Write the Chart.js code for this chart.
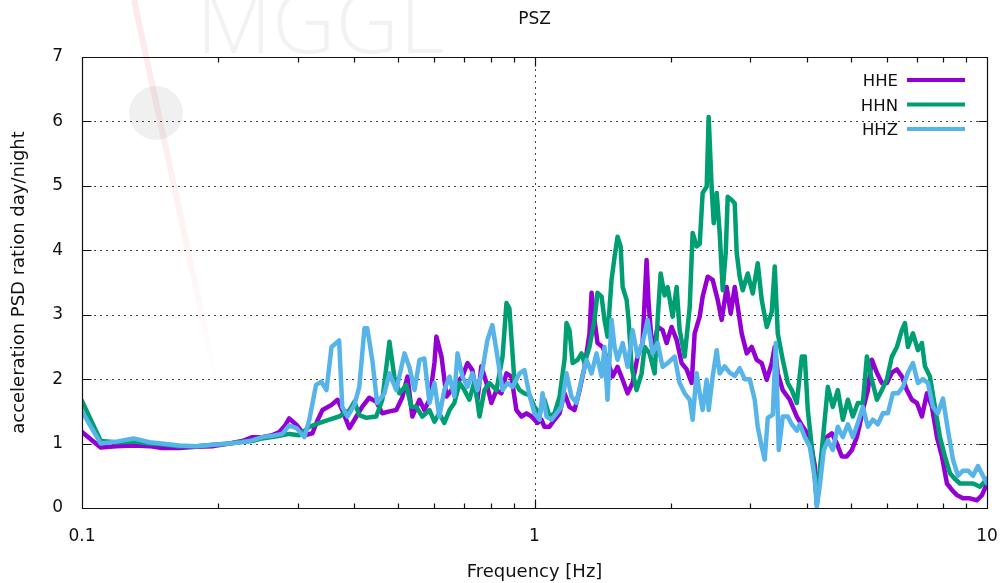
<!DOCTYPE html>
<html>
<head>
<meta charset="utf-8">
<title>PSZ</title>
<script src="https://cdn.jsdelivr.net/npm/chart.js@4.4.1/dist/chart.umd.min.js"></script>
<style>
  html, body { margin: 0; padding: 0; background: #ffffff; }
  canvas { display: block; }
</style>
</head>
<body>
<canvas id="psd" width="1003" height="583"></canvas>
<script>
// Day/night acceleration PSD ratio per channel: [frequency Hz, ratio]
const hhe = [
  [0.100,1.18],[0.110,0.94],[0.119,0.96],[0.130,0.97],[0.141,0.96],[0.150,0.93],[0.164,0.93],[0.179,0.95],
  [0.195,0.96],[0.212,1.00],[0.226,1.04],[0.238,1.10],[0.250,1.10],[0.263,1.13],[0.273,1.18],[0.281,1.28],
  [0.287,1.39],[0.298,1.29],[0.310,1.13],[0.323,1.16],[0.331,1.35],[0.340,1.52],[0.356,1.60],[0.367,1.68],
  [0.376,1.52],[0.390,1.24],[0.404,1.42],[0.416,1.57],[0.431,1.71],[0.447,1.65],[0.461,1.47],[0.478,1.50],
  [0.495,1.52],[0.510,1.71],[0.524,2.04],[0.537,1.42],[0.557,1.68],[0.571,1.52],[0.586,1.68],[0.601,2.25],
  [0.607,2.66],[0.623,2.35],[0.639,1.73],[0.655,1.83],[0.672,1.94],[0.693,2.04],[0.711,2.25],[0.729,2.14],
  [0.748,1.68],[0.763,2.20],[0.783,1.94],[0.803,1.63],[0.824,1.83],[0.845,1.78],[0.867,2.09],[0.889,2.04],
  [0.912,1.52],[0.936,1.42],[0.960,1.47],[0.985,1.42],[1.015,1.32],[1.036,1.37],[1.052,1.26],[1.079,1.26],
  [1.107,1.37],[1.136,1.47],[1.165,1.78],[1.195,1.57],[1.226,1.52],[1.258,1.83],[1.290,2.19],[1.323,2.71],
  [1.337,3.34],[1.357,2.92],[1.378,2.56],[1.414,2.50],[1.450,2.30],[1.488,2.04],[1.526,2.19],[1.566,1.99],
  [1.606,1.78],[1.647,1.94],[1.690,2.35],[1.733,2.56],[1.769,3.85],[1.787,3.18],[1.824,2.40],[1.871,2.81],
  [1.919,2.76],[1.959,2.56],[2.009,2.81],[2.061,2.61],[2.114,2.25],[2.169,2.15],[2.225,1.94],[2.259,2.71],
  [2.318,2.97],[2.353,3.28],[2.414,3.59],[2.476,3.54],[2.540,3.23],[2.592,2.92],[2.659,3.43],[2.714,3.02],
  [2.770,3.43],[2.813,3.12],[2.870,2.71],[2.945,2.40],[3.020,2.50],[3.098,2.30],[3.178,2.25],[3.260,1.99],
  [3.344,2.25],[3.396,2.50],[3.448,2.09],[3.537,1.83],[3.666,1.68],[3.799,1.42],[3.917,1.26],[4.059,1.10],
  [4.164,0.65],[4.206,0.05],[4.315,0.80],[4.426,1.10],[4.540,1.16],[4.657,1.00],[4.777,0.80],[4.901,0.80],
  [5.027,0.90],[5.157,1.10],[5.236,1.30],[5.317,1.52],[5.454,1.83],[5.566,2.30],[5.710,2.10],[5.857,1.94],
  [6.009,1.94],[6.163,2.10],[6.323,2.15],[6.485,2.04],[6.653,1.83],[6.824,1.68],[7.001,1.63],[7.181,1.42],
  [7.367,1.78],[7.556,1.57],[7.752,1.10],[7.951,0.80],[8.157,0.38],[8.367,0.28],[8.583,0.20],[8.850,0.15],
  [9.171,0.15],[9.504,0.12],[9.748,0.20],[10.0,0.38]
];

const hhn = [
  [0.100,1.66],[0.110,1.04],[0.119,1.02],[0.130,1.03],[0.141,1.00],[0.150,0.99],[0.164,0.96],[0.179,0.96],
  [0.195,0.98],[0.212,1.00],[0.226,1.03],[0.238,1.04],[0.250,1.08],[0.263,1.10],[0.273,1.12],[0.287,1.15],
  [0.302,1.13],[0.318,1.26],[0.335,1.32],[0.352,1.37],[0.370,1.42],[0.390,1.52],[0.400,1.65],[0.410,1.44],
  [0.425,1.40],[0.447,1.42],[0.461,1.68],[0.478,2.58],[0.490,2.04],[0.503,1.78],[0.521,1.91],[0.534,1.57],
  [0.548,1.57],[0.565,1.42],[0.586,1.52],[0.601,1.34],[0.616,1.47],[0.632,1.32],[0.649,1.52],[0.665,1.63],
  [0.683,1.94],[0.700,1.83],[0.718,1.68],[0.737,1.97],[0.756,1.42],[0.775,1.83],[0.795,1.94],[0.824,1.83],
  [0.850,2.35],[0.867,3.18],[0.880,3.10],[0.903,1.97],[0.927,1.83],[0.950,1.78],[0.975,1.75],[1.000,1.57],
  [1.026,1.47],[1.052,1.68],[1.079,1.42],[1.107,1.47],[1.136,1.73],[1.165,2.30],[1.177,2.87],[1.195,2.76],
  [1.214,2.25],[1.245,2.30],[1.270,2.40],[1.290,2.25],[1.323,2.50],[1.357,2.92],[1.378,3.34],[1.407,3.28],
  [1.428,2.92],[1.450,2.66],[1.480,3.54],[1.503,3.90],[1.526,4.21],[1.550,4.06],[1.566,3.43],[1.598,3.23],
  [1.614,2.92],[1.639,2.19],[1.681,1.83],[1.725,2.09],[1.751,2.50],[1.796,2.40],[1.843,2.09],[1.871,2.92],
  [1.900,3.64],[1.939,3.30],[1.969,3.43],[2.020,2.97],[2.061,3.43],[2.093,2.76],[2.147,2.35],[2.203,3.12],
  [2.236,4.27],[2.282,4.06],[2.318,4.10],[2.353,4.89],[2.402,4.99],[2.426,6.07],[2.464,4.95],[2.489,4.42],
  [2.527,4.89],[2.566,4.27],[2.606,3.38],[2.646,3.96],[2.673,4.83],[2.728,4.78],[2.770,4.73],[2.798,3.96],
  [2.841,3.59],[2.885,3.38],[2.960,3.64],[3.036,3.33],[3.114,3.80],[3.178,3.23],[3.260,2.81],[3.344,3.04],
  [3.396,3.75],[3.448,2.71],[3.537,2.30],[3.629,1.94],[3.703,1.83],[3.799,1.63],[3.897,2.35],[3.957,2.35],
  [4.018,1.52],[4.121,0.80],[4.206,0.12],[4.315,0.90],[4.449,1.88],[4.563,1.57],[4.681,1.83],[4.802,1.37],
  [4.926,1.68],[5.053,1.42],[5.183,1.63],[5.317,1.63],[5.427,2.35],[5.566,1.99],[5.710,1.68],[5.857,1.83],
  [6.009,2.00],[6.163,2.35],[6.323,2.50],[6.485,2.76],[6.586,2.87],[6.687,2.50],[6.860,2.71],[7.037,2.45],
  [7.181,2.56],[7.292,2.20],[7.480,2.04],[7.673,1.57],[7.871,1.10],[8.074,0.80],[8.283,0.54],[8.496,0.45],
  [8.715,0.38],[9.032,0.38],[9.312,0.38],[9.650,0.33],[10.0,0.45]
];

const hhz = [
  [0.100,1.50],[0.110,1.00],[0.119,1.03],[0.130,1.08],[0.141,1.02],[0.150,1.00],[0.164,0.97],[0.179,0.96],
  [0.195,0.98],[0.212,1.00],[0.226,1.02],[0.238,1.05],[0.250,1.10],[0.263,1.12],[0.277,1.15],[0.287,1.28],
  [0.298,1.24],[0.310,1.10],[0.318,1.37],[0.329,1.91],[0.338,1.96],[0.347,1.83],[0.356,2.50],[0.370,2.60],
  [0.376,1.57],[0.386,1.42],[0.400,1.60],[0.410,1.88],[0.421,2.79],[0.427,2.79],[0.438,2.30],[0.449,1.63],
  [0.466,1.78],[0.478,2.09],[0.495,1.83],[0.516,2.40],[0.529,2.19],[0.543,1.83],[0.557,2.30],[0.571,2.32],
  [0.586,1.63],[0.601,1.94],[0.616,1.42],[0.632,1.83],[0.649,2.04],[0.665,1.73],[0.676,2.40],[0.693,2.04],
  [0.711,1.88],[0.729,2.09],[0.748,1.83],[0.767,2.14],[0.787,2.61],[0.807,2.84],[0.828,2.35],[0.850,1.83],
  [0.872,1.94],[0.894,1.88],[0.927,2.09],[0.950,2.14],[0.975,1.75],[1.000,1.47],[1.026,1.37],[1.042,1.78],
  [1.063,1.42],[1.090,1.37],[1.119,1.47],[1.147,1.57],[1.177,2.09],[1.207,1.73],[1.238,1.63],[1.270,1.99],
  [1.303,2.30],[1.337,2.09],[1.371,2.40],[1.407,2.04],[1.428,2.50],[1.450,1.68],[1.480,2.92],[1.503,2.50],
  [1.526,2.30],[1.566,2.56],[1.606,2.19],[1.647,2.76],[1.690,2.35],[1.733,2.56],[1.778,2.92],[1.824,2.40],
  [1.871,2.56],[1.919,2.19],[1.969,2.25],[2.040,2.35],[2.093,1.94],[2.147,1.78],[2.203,1.68],[2.236,1.37],
  [2.282,2.09],[2.318,1.78],[2.353,1.52],[2.402,1.99],[2.426,1.52],[2.476,2.04],[2.527,2.45],[2.566,2.09],
  [2.632,2.20],[2.700,2.10],[2.770,2.05],[2.841,2.17],[2.915,2.00],[2.990,2.00],[3.067,1.68],[3.114,1.26],
  [3.178,0.95],[3.227,0.75],[3.277,1.40],[3.362,1.45],[3.414,2.56],[3.466,0.90],[3.537,1.42],[3.629,1.42],
  [3.703,1.30],[3.799,1.20],[3.857,1.30],[3.957,1.10],[4.059,0.95],[4.164,0.45],[4.206,0.02],[4.271,0.35],
  [4.359,0.90],[4.449,1.05],[4.563,0.90],[4.681,1.26],[4.802,1.10],[4.926,1.30],[5.053,1.10],[5.183,1.32],
  [5.317,1.57],[5.454,1.26],[5.595,1.37],[5.739,1.30],[5.887,1.47],[6.039,1.47],[6.195,1.78],[6.355,1.78],
  [6.519,1.88],[6.687,2.10],[6.860,2.25],[7.037,1.94],[7.218,2.00],[7.404,1.94],[7.595,1.57],[7.791,1.47],
  [7.992,1.70],[8.199,1.20],[8.410,0.75],[8.627,0.50],[8.850,0.58],[9.078,0.58],[9.312,0.50],[9.552,0.65],
  [9.799,0.50],[10.0,0.38]
];

// Axis ticks and grid
const yTickValues   = [0, 1, 2, 3, 4, 5, 6, 7];
const yGridValues   = [1, 2, 3, 4, 5, 6];
const xLabelValues  = [0.1, 1, 10];
const xMinorValues  = [0.2, 0.3, 0.4, 0.5, 0.6, 0.7, 0.8, 0.9, 2, 3, 4, 5, 6, 7, 8, 9];
const xGridValues   = [1];

const FONT = "'DejaVu Sans', 'Liberation Sans', sans-serif";
const toXY = rows => rows.map(([f, r]) => ({ x: f, y: r }));

// Faint logo/watermark behind the plot
const backdrop = {
  id: 'backdrop',
  beforeDraw(chart) {
    const { ctx, width, height } = chart;
    ctx.save();
    ctx.fillStyle = '#ffffff';
    ctx.fillRect(0, 0, width, height);

    const g = ctx.createLinearGradient(0, 0, 0, 390);
    g.addColorStop(0, 'rgba(240,80,80,0.13)');
    g.addColorStop(0.6, 'rgba(240,80,80,0.07)');
    g.addColorStop(1, 'rgba(240,80,80,0)');
    ctx.strokeStyle = g;
    ctx.lineWidth = 6;
    ctx.beginPath();
    ctx.moveTo(134, 0);
    ctx.lineTo(218, 390);
    ctx.stroke();

    ctx.fillStyle = 'rgba(0,0,0,0.06)';
    ctx.beginPath();
    ctx.arc(156, 113, 27, 0, Math.PI * 2);
    ctx.fill();

    ctx.fillStyle = 'rgba(0,0,0,0.05)';
    ctx.font = "300 88px 'Open Sans', 'Liberation Sans', sans-serif";
    ctx.textAlign = 'left';
    ctx.textBaseline = 'alphabetic';
    ctx.fillText('MGGL', 196, 53);
    ctx.restore();
  }
};

// Dotted grid, framing box, inward tick marks, title and key
const frame = {
  id: 'frame',
  beforeDatasetsDraw(chart) {
    const { ctx, chartArea: a, scales: { x, y } } = chart;
    ctx.save();
    ctx.strokeStyle = '#444';
    ctx.lineWidth = 1;
    ctx.setLineDash([2, 4]);
    ctx.beginPath();
    yGridValues.forEach(v => {
      const py = Math.round(y.getPixelForValue(v)) + 0.5;
      ctx.moveTo(a.left, py); ctx.lineTo(a.right, py);
    });
    xGridValues.forEach(v => {
      const px = Math.round(x.getPixelForValue(v)) + 0.5;
      ctx.moveTo(px, a.top); ctx.lineTo(px, a.bottom);
    });
    ctx.stroke();
    ctx.restore();
  },
  afterDatasetsDraw(chart) {
    const { ctx, chartArea: a, scales: { x, y } } = chart;
    ctx.save();
    ctx.strokeStyle = '#111';
    ctx.lineWidth = 1.2;
    ctx.beginPath();
    const L = Math.round(a.left) + 0.5, R = Math.round(a.right) + 0.5;
    const T = Math.round(a.top) + 0.5, B = Math.round(a.bottom) + 0.5;
    ctx.rect(L, T, R - L, B - T);
    yTickValues.forEach(v => {
      const py = Math.round(y.getPixelForValue(v)) + 0.5;
      ctx.moveTo(L, py); ctx.lineTo(L + 9, py);
      ctx.moveTo(R, py); ctx.lineTo(R - 9, py);
    });
    xLabelValues.forEach(v => {
      const px = Math.round(x.getPixelForValue(v)) + 0.5;
      ctx.moveTo(px, B); ctx.lineTo(px, B - 9);
      ctx.moveTo(px, T); ctx.lineTo(px, T + 9);
    });
    xMinorValues.forEach(v => {
      const px = Math.round(x.getPixelForValue(v)) + 0.5;
      ctx.moveTo(px, B); ctx.lineTo(px, B - 5);
      ctx.moveTo(px, T); ctx.lineTo(px, T + 5);
    });
    ctx.stroke();

    // title centred over the plot
    ctx.fillStyle = '#111';
    ctx.font = `17px ${FONT}`;
    ctx.textAlign = 'center';
    ctx.textBaseline = 'middle';
    ctx.fillText('PSZ', (a.left + a.right) / 2, 20);

    // key, top right inside the plot
    ctx.font = `16.5px ${FONT}`;
    ctx.textAlign = 'right';
    chart.data.datasets.forEach((ds, i) => {
      const cy = a.top + 24 + i * 24.5;
      ctx.fillStyle = '#111';
      ctx.fillText(ds.label, a.right - 89, cy + 1);
      ctx.strokeStyle = ds.borderColor;
      ctx.lineWidth = 4;
      ctx.beginPath();
      ctx.moveTo(a.right - 80, cy - 1);
      ctx.lineTo(a.right - 22, cy - 1);
      ctx.stroke();
    });
    ctx.restore();
  }
};

new Chart(document.getElementById('psd'), {
  type: 'line',
  data: {
    datasets: [
      { label: 'HHE', data: toXY(hhe), borderColor: '#9400d3', order: 3 },
      { label: 'HHN', data: toXY(hhn), borderColor: '#009e73', order: 2 },
      { label: 'HHZ', data: toXY(hhz), borderColor: '#56b4e9', order: 1 }
    ]
  },
  options: {
    responsive: false,
    animation: false,
    devicePixelRatio: 1,
    elements: {
      line: { borderWidth: 4.5, tension: 0, borderJoinStyle: 'round', borderCapStyle: 'round', fill: false },
      point: { radius: 0, hoverRadius: 0 }
    },
    layout: { padding: { top: 57, right: 16, bottom: 0, left: 0 } },
    plugins: {
      legend: { display: false },
      tooltip: { enabled: false },
      title: { display: false }
    },
    scales: {
      x: {
        type: 'logarithmic',
        position: 'bottom',
        min: 0.1,
        max: 10,
        afterFit: s => { s.height = 75; s.paddingLeft = 0; s.paddingRight = 0; },
        afterBuildTicks: s => { s.ticks = xLabelValues.map(v => ({ value: v })); },
        grid: { display: false },
        border: { display: false },
        ticks: {
          autoSkip: false,
          maxRotation: 0,
          padding: 10,
          color: '#111',
          font: { family: FONT, size: 17 },
          callback: v => String(v)
        },
        title: {
          display: true,
          text: 'Frequency [Hz]',
          color: '#111',
          font: { family: FONT, size: 18 },
          padding: { top: 0, bottom: 0 }
        }
      },
      y: {
        min: 0,
        max: 7,
        afterFit: s => { s.width = 82; },
        afterBuildTicks: s => { s.ticks = yTickValues.map(v => ({ value: v })); },
        grid: { display: false },
        border: { display: false },
        ticks: {
          padding: 11,
          color: '#111',
          font: { family: FONT, size: 17 },
          callback: v => String(v)
        },
        title: {
          display: true,
          text: 'acceleration PSD ration day/night',
          color: '#111',
          font: { family: FONT, size: 18 },
          padding: { top: 9, bottom: 0 }
        }
      }
    }
  },
  plugins: [backdrop, frame]
});
</script>
</body>
</html>
